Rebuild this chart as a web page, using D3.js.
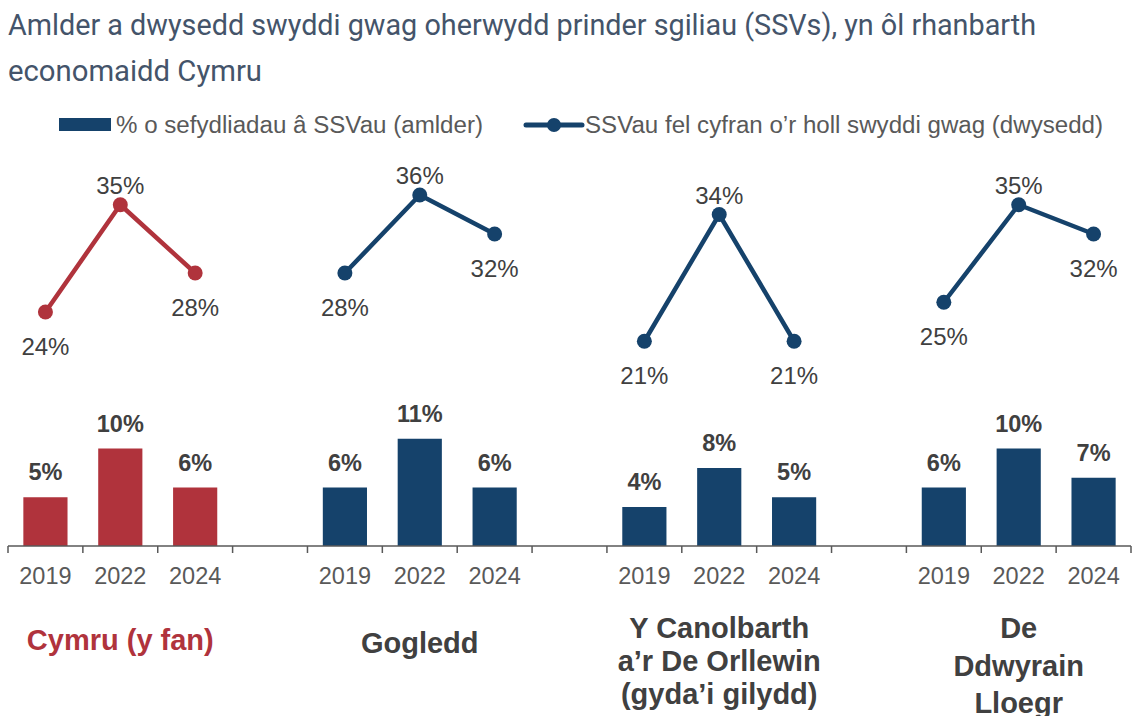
<!DOCTYPE html>
<html>
<head>
<meta charset="utf-8">
<script src="https://cdn.jsdelivr.net/npm/d3@7"></script>
<style>
  html, body { margin: 0; padding: 0; background: #fff; }
  svg { display: block; }
</style>
</head>
<body>
<svg id="main-svg" width="1133" height="716"></svg>
<script>
// data
var years = ["2019", "2022", "2024"];
var regions = ["Cymru (y fan)", "Gogledd", "Y Canolbarth a’r De Orllewin (gyda’i gilydd)", "De Ddwyrain Lloegr"];
var regionLines = [["Cymru (y fan)"], ["Gogledd"], ["Y Canolbarth", "a’r De Orllewin", "(gyda’i gilydd)"], ["De", "Ddwyrain", "Lloegr"]];
var amlder = [[5, 10, 6], [6, 11, 6], [4, 8, 5], [6, 10, 7]];      // % o sefydliadau â SSVau
var dwysedd = [[24, 35, 28], [28, 36, 32], [21, 34, 21], [25, 35, 32]]; // SSVau fel cyfran o'r holl swyddi gwag
var titleLines = ["Amlder a dwysedd swyddi gwag oherwydd prinder sgiliau (SSVs), yn ôl rhanbarth", "economaidd Cymru"];
var legendLabels = ["% o sefydliadau â SSVau (amlder)", "SSVau fel cyfran o’r holl swyddi gwag (dwysedd)"];

var red = "#B0333C", navy = "#15426B";
var labelFont = "'Liberation Sans', Arial, sans-serif";

var svg = d3.select("#main-svg");

// slots: 3 years per region, one empty slot between regions
var slots = [];
regions.forEach(function(r, i) {
  years.forEach(function(y) { slots.push(i + "-" + y); });
  if (i < regions.length - 1) slots.push("gap" + i);
});

var x = d3.scaleBand().domain(slots).range([8, 1131]).padding(0);
var y = d3.scaleLinear().domain([0, 40]).range([546, 156]);
var barW = x.bandwidth() * 0.59;

function cx(ri, yi) { return x(ri + "-" + years[yi]) + x.bandwidth() / 2; }
function colour(ri) { return ri === 0 ? red : navy; }

// title
svg.append("g").selectAll("text")
  .data(titleLines).enter().append("text")
  .attr("x", 8)
  .attr("y", function(d, i) { return 35 + i * 46; })
  .attr("textLength", function(d, i) { return i === 0 ? 1028 : 254; })
  .attr("lengthAdjust", "spacingAndGlyphs")
  .style("font-family", "Roboto, sans-serif")
  .style("font-size", "29px")
  .style("fill", "#44546A")
  .text(function(d) { return d; });

// legend
var leg = svg.append("g").style("font-family", labelFont).style("font-size", "23px").style("fill", "#595959");
leg.append("rect").attr("x", 59).attr("y", 118).attr("width", 52).attr("height", 13).style("fill", navy);
leg.append("text").attr("x", 116).attr("y", 133).attr("textLength", 367).attr("lengthAdjust", "spacingAndGlyphs").text(legendLabels[0]);
leg.append("line").attr("x1", 526).attr("x2", 582).attr("y1", 125).attr("y2", 125)
  .style("stroke", navy).style("stroke-width", 5).style("stroke-linecap", "round");
leg.append("circle").attr("cx", 554).attr("cy", 125).attr("r", 7).style("fill", navy);
leg.append("text").attr("x", 585).attr("y", 133).attr("textLength", 518).attr("lengthAdjust", "spacingAndGlyphs").text(legendLabels[1]);

// bars
var barData = [];
amlder.forEach(function(vals, ri) {
  vals.forEach(function(v, yi) { barData.push({ri: ri, yi: yi, v: v}); });
});

svg.append("g").selectAll("rect")
  .data(barData).enter().append("rect")
  .attr("x", function(d) { return cx(d.ri, d.yi) - barW / 2; })
  .attr("y", function(d) { return y(d.v); })
  .attr("width", barW)
  .attr("height", function(d) { return y(0) - y(d.v); })
  .style("fill", function(d) { return colour(d.ri); });

svg.append("g").selectAll("text")
  .data(barData).enter().append("text")
  .attr("x", function(d) { return cx(d.ri, d.yi); })
  .attr("y", function(d) { return y(d.v) - 17; })
  .attr("text-anchor", "middle")
  .style("font-family", labelFont).style("font-size", "23.5px").style("font-weight", "bold")
  .style("fill", "#404040")
  .text(function(d) { return d.v + "%"; });

// axis
var axis = svg.append("g").style("stroke", "#595959").style("stroke-width", 1.5);
axis.append("line").attr("x1", 8).attr("x2", 1131).attr("y1", y(0)).attr("y2", y(0));
var bounds = slots.map(function(s) { return x(s); }).concat([x.range()[1]]);
axis.selectAll("line.tick")
  .data(bounds).enter().append("line")
  .attr("class", "tick")
  .attr("x1", function(d) { return d; }).attr("x2", function(d) { return d; })
  .attr("y1", y(0)).attr("y2", y(0) + 7);

svg.append("g").selectAll("text")
  .data(barData).enter().append("text")
  .attr("x", function(d) { return cx(d.ri, d.yi); })
  .attr("y", 583.5)
  .attr("text-anchor", "middle")
  .style("font-family", labelFont).style("font-size", "23.5px")
  .style("fill", "#595959")
  .text(function(d) { return years[d.yi]; });

// lines
var line = d3.line()
  .x(function(d) { return cx(d.ri, d.yi); })
  .y(function(d) { return y(d.v); });

dwysedd.forEach(function(vals, ri) {
  var pts = vals.map(function(v, yi) { return {ri: ri, yi: yi, v: v}; });
  var g = svg.append("g");
  g.append("path").datum(pts).attr("d", line)
    .style("fill", "none").style("stroke", colour(ri)).style("stroke-width", 4.5)
    .style("stroke-linejoin", "round");
  g.selectAll("circle").data(pts).enter().append("circle")
    .attr("cx", function(d) { return cx(d.ri, d.yi); })
    .attr("cy", function(d) { return y(d.v); })
    .attr("r", 7.5)
    .style("fill", colour(ri));
  g.selectAll("text").data(pts).enter().append("text")
    .attr("x", function(d) { return cx(d.ri, d.yi); })
    .attr("y", function(d) { return d.yi === 1 ? y(d.v) - 11 : y(d.v) + 43; })
    .attr("text-anchor", "middle")
    .style("font-family", labelFont).style("font-size", "24px")
    .style("fill", "#404040")
    .text(function(d) { return d.v + "%"; });
});

// region labels
var regionY = [[650], [653], [638, 671, 704], [638, 676, 713]];
regionLines.forEach(function(lines, ri) {
  svg.append("g").selectAll("text")
    .data(lines).enter().append("text")
    .attr("x", cx(ri, 1))
    .attr("y", function(d, i) { return regionY[ri][i]; })
    .attr("text-anchor", "middle")
    .style("font-family", labelFont).style("font-size", "29px").style("font-weight", "bold")
    .style("fill", ri === 0 ? red : "#404040")
    .text(function(d) { return d; });
});
</script>
</body>
</html>
